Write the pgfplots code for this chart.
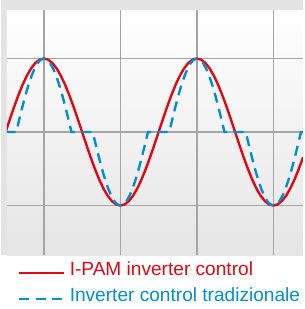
\documentclass[border=0pt]{standalone}
\usepackage{pgfplots}
\pgfplotsset{compat=1.18}
\usepackage{fontspec}
\setmainfont{Liberation Sans}
\definecolor{cred}{RGB}{227,6,19}
\definecolor{cblue}{RGB}{0,143,211}
\definecolor{outergray}{RGB}{227,227,227}
\definecolor{gridgray}{RGB}{165,165,165}
\definecolor{botgray}{RGB}{229,229,229}
\begin{document}
\begin{tikzpicture}[x=1pt,y=1pt]
\fill[white] (0,0) rectangle (302,309);
\fill[outergray] (0,54) rectangle (302,309);
\begin{axis}[
  at={(6pt,54pt)}, anchor=south west,
  scale only axis, width=296pt, height=245pt,
  xmin=2.94, xmax=699.4, ymin=-1.673, ymax=1.66,
  axis line style={draw=none},
  axis background/.style={top color=white, bottom color=botgray},
  xtick={90,270,450,630}, ytick={-1,0,1},
  xticklabels={}, yticklabels={},
  major tick length=0pt,
  grid=major,
  major grid style={gridgray, line width=1.4pt},
  clip=true,
  legend style={draw=none, fill=none, inner sep=0pt, outer sep=0pt,
    at={(0.03716,-0.02857)}, anchor=north west,
    font=\fontsize{19.1}{22}\selectfont, row sep=8pt, column sep=0pt,
    cells={anchor=base west},
    nodes={inner xsep=4.5pt, inner ysep=0pt, text height=14pt, text depth=4pt}},
  legend image code/.code={\draw[#1] (0pt,3pt) -- (45pt,3pt);},
]
\addplot[cred, line width=2.4pt] coordinates {
(0,0)(10,0.1736)(20,0.3420)(30,0.5)(40,0.6428)(50,0.7660)(60,0.8660)(70,0.9397)(80,0.9848)(90,1)
(100,0.9848)(110,0.9397)(120,0.8660)(130,0.7660)(140,0.6428)(150,0.5)(160,0.3420)(170,0.1736)(180,0)
(190,-0.1736)(200,-0.3420)(210,-0.5)(220,-0.6428)(230,-0.7660)(240,-0.8660)(250,-0.9397)(260,-0.9848)(270,-1)
(280,-0.9848)(290,-0.9397)(300,-0.8660)(310,-0.7660)(320,-0.6428)(330,-0.5)(340,-0.3420)(350,-0.1736)(360,0)
(370,0.1736)(380,0.3420)(390,0.5)(400,0.6428)(410,0.7660)(420,0.8660)(430,0.9397)(440,0.9848)(450,1)
(460,0.9848)(470,0.9397)(480,0.8660)(490,0.7660)(500,0.6428)(510,0.5)(520,0.3420)(530,0.1736)(540,0)
(550,-0.1736)(560,-0.3420)(570,-0.5)(580,-0.6428)(590,-0.7660)(600,-0.8660)(610,-0.9397)(620,-0.9848)(630,-1)
(640,-0.9848)(650,-0.9397)(660,-0.8660)(670,-0.7660)(680,-0.6428)(690,-0.5)(700,-0.3420)
};
\addlegendentry{\textcolor{cred}{I-PAM inverter control}}
\addplot[cblue, line width=2.4pt, dash pattern=on 10pt off 6.5pt] coordinates {
(0,0)(25,0)(32.22,0.1736)(39.44,0.3420)(46.67,0.5)(53.89,0.6428)(61.11,0.7660)(68.33,0.8660)(75.56,0.9397)(82.78,0.9848)(90,1)
(97.22,0.9848)(104.44,0.9397)(111.67,0.8660)(118.89,0.7660)(126.11,0.6428)(133.33,0.5)(140.56,0.3420)(147.78,0.1736)(155,0)
(205,0)(212.22,-0.1736)(219.44,-0.3420)(226.67,-0.5)(233.89,-0.6428)(241.11,-0.7660)(248.33,-0.8660)(255.56,-0.9397)(262.78,-0.9848)(270,-1)
(277.22,-0.9848)(284.44,-0.9397)(291.67,-0.8660)(298.89,-0.7660)(306.11,-0.6428)(313.33,-0.5)(320.56,-0.3420)(327.78,-0.1736)(335,0)
(385,0)(392.22,0.1736)(399.44,0.3420)(406.67,0.5)(413.89,0.6428)(421.11,0.7660)(428.33,0.8660)(435.56,0.9397)(442.78,0.9848)(450,1)
(457.22,0.9848)(464.44,0.9397)(471.67,0.8660)(478.89,0.7660)(486.11,0.6428)(493.33,0.5)(500.56,0.3420)(507.78,0.1736)(515,0)
(565,0)(572.22,-0.1736)(579.44,-0.3420)(586.67,-0.5)(593.89,-0.6428)(601.11,-0.7660)(608.33,-0.8660)(615.56,-0.9397)(622.78,-0.9848)(630,-1)
(637.22,-0.9848)(644.44,-0.9397)(651.67,-0.8660)(658.89,-0.7660)(666.11,-0.6428)(673.33,-0.5)(680.56,-0.3420)(687.78,-0.1736)(695,0)(700,0)
};
\addlegendentry{\textcolor{cblue}{Inverter control tradizionale}}
\end{axis}
\end{tikzpicture}
\end{document}
